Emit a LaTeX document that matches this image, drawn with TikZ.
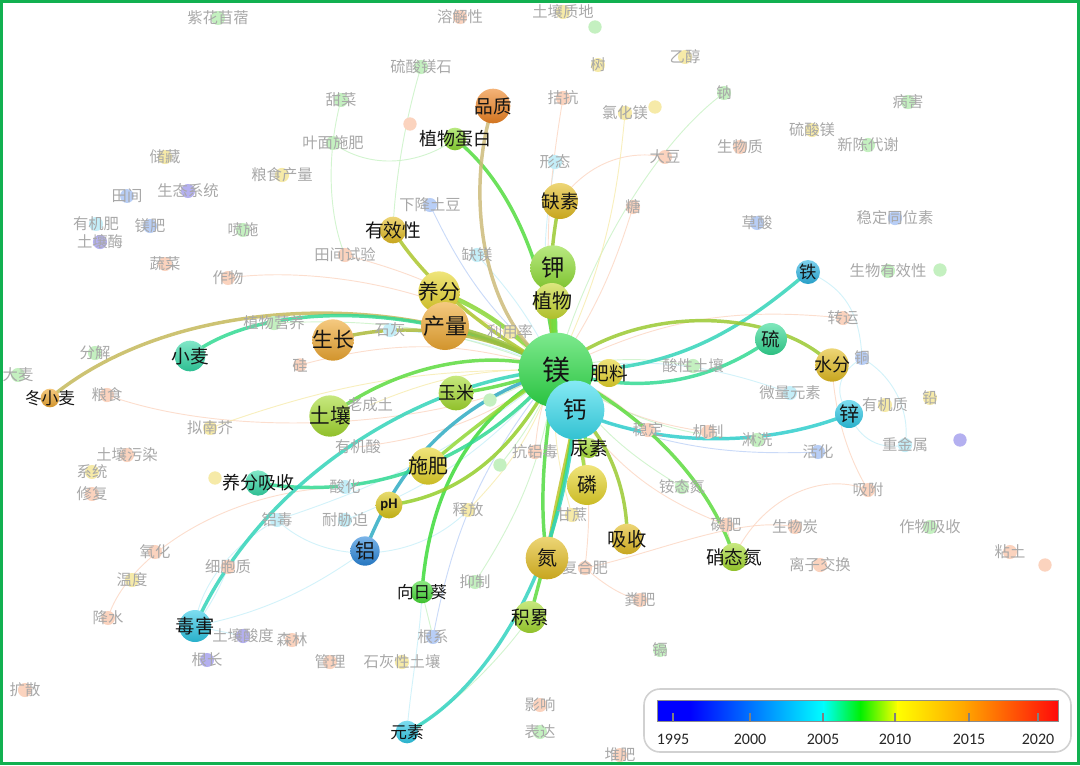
\documentclass[tikz,border=0pt]{standalone}
\usepackage{fontspec}
\setmainfont{Carlito}
\newfontfamily\cjk{Noto Sans CJK SC}
\usepackage{tikz}
\pgfdeclarelayer{links}
\pgfsetlayers{links,main}
\definecolor{cMg}{HTML}{2EDC48}
\definecolor{cCa}{HTML}{3ADCEE}
\definecolor{cK}{HTML}{8EDC34}
\definecolor{cPlant}{HTML}{C6D830}
\definecolor{cYel}{HTML}{E6D42A}
\definecolor{cGold}{HTML}{E2BC22}
\definecolor{cOrg}{HTML}{EEA832}
\definecolor{cDorg}{HTML}{EE8424}
\definecolor{cYg}{HTML}{A4DA30}
\definecolor{cGrn}{HTML}{44DA34}
\definecolor{cTeal}{HTML}{34D8A6}
\definecolor{cCyan}{HTML}{2EC8E6}
\definecolor{cBlue}{HTML}{2A86DA}
\definecolor{cMust}{HTML}{D8C416}
\definecolor{pOrg}{HTML}{FBD3BE}
\definecolor{pGrn}{HTML}{C4F0C0}
\definecolor{pYel}{HTML}{F6EAA8}
\definecolor{pCyan}{HTML}{C4EEF8}
\definecolor{pBlue}{HTML}{B8CEF6}
\definecolor{pPur}{HTML}{B4B0F0}
\definecolor{eTan}{HTML}{CDBB7A}
\definecolor{eOlive}{HTML}{C4B85A}
\definecolor{frameGreen}{HTML}{12B050}
\newcommand{\kwlbl}[1]{\makebox[0pt]{#1}}
\tikzset{
  kw/.style n args={3}{circle, inner sep=0pt, minimum size=#1pt, top color=#2!62!white, bottom color=#2!88!black, text=black!92, font=\cjk\fontsize{#3}{#3}\selectfont},
  faint/.style={circle, inner sep=0pt, minimum size=10pt, fill=#1, text=black!34, font=\cjk\fontsize{11.5}{11.5}\selectfont},
  link/.style={line width=2.6pt, draw=#1, draw opacity=.85, line cap=round},
  weak/.style={line width=.7pt, draw=#1, draw opacity=.75},
  yearlbl/.style={font=\fontsize{12}{12}\selectfont, text=black!85},
}

\begin{document}
\begin{tikzpicture}[x=0.75pt, y=-0.75pt]
\useasboundingbox (0,0) rectangle (1080,765);

\node[faint=pGrn] (alfalfa) at (218,18) {\kwlbl{紫花苜蓿}};
\node[faint=pOrg] (solub) at (460,17) {\kwlbl{溶解性}};
\node[faint=pYel] (texture) at (563,12) {\kwlbl{土壤质地}};
\node[faint=pGrn] (dotA) at (595,27) {};
\node[faint=pGrn] (mgsulfst) at (421,67) {\kwlbl{硫酸镁石}};
\node[faint=pYel] (tree) at (598,65) {\kwlbl{树}};
\node[faint=pYel] (ethanol) at (685,57) {\kwlbl{乙醇}};
\node[faint=pGrn] (sodium) at (724,93) {\kwlbl{钠}};
\node[faint=pOrg] (antag) at (563,98) {\kwlbl{拮抗}};
\node[faint=pYel] (mgcl) at (625,113) {\kwlbl{氯化镁}};
\node[faint=pYel] (dotB) at (655,107) {};
\node[faint=pGrn] (beet) at (341,100) {\kwlbl{甜菜}};
\node[faint=pOrg] (dotC) at (410,124) {};
\node[faint=pGrn] (foliar) at (333,143) {\kwlbl{叶面施肥}};
\node[faint=pOrg] (biomass) at (740,147) {\kwlbl{生物质}};
\node[faint=pYel] (mgsulf) at (812,130) {\kwlbl{硫酸镁}};
\node[faint=pGrn] (disease) at (908,102) {\kwlbl{病害}};
\node[faint=pGrn] (metab) at (868,145) {\kwlbl{新陈代谢}};
\node[faint=pCyan] (form) at (555,162) {\kwlbl{形态}};
\node[faint=pOrg] (soybean) at (665,157) {\kwlbl{大豆}};
\node[faint=pYel] (storage) at (165,157) {\kwlbl{储藏}};
\node[faint=pYel] (grainy) at (282,175) {\kwlbl{粮食产量}};
\node[faint=pBlue] (field) at (127,196) {\kwlbl{田间}};
\node[faint=pPur] (ecosys) at (188,191) {\kwlbl{生态系统}};
\node[faint=pBlue] (potato) at (430,205) {\kwlbl{下降土豆}};
\node[faint=pOrg] (sugar) at (633,207) {\kwlbl{糖}};
\node[faint=pBlue] (oxalic) at (757,223) {\kwlbl{草酸}};
\node[faint=pBlue] (isotope) at (895,218) {\kwlbl{稳定同位素}};
\node[faint=pCyan] (orgman) at (96,224) {\kwlbl{有机肥}};
\node[faint=pBlue] (mgfert) at (150,226) {\kwlbl{镁肥}};
\node[faint=pGrn] (spray) at (243,230) {\kwlbl{喷施}};
\node[faint=pPur] (enzyme) at (100,242) {\kwlbl{土壤酶}};
\node[faint=pOrg] (veget) at (165,264) {\kwlbl{蔬菜}};
\node[faint=pOrg] (fieldexp) at (345,255) {\kwlbl{田间试验}};
\node[faint=pCyan] (mgdef) at (477,255) {\kwlbl{缺镁}};
\node[faint=pOrg] (crop) at (228,278) {\kwlbl{作物}};
\node[faint=pGrn] (bioavail) at (888,271) {\kwlbl{生物有效性}};
\node[faint=pGrn] (dotD) at (940,270) {};
\node[faint=pGrn] (plantnut) at (274,323) {\kwlbl{植物营养}};
\node[faint=pCyan] (liming) at (390,330) {\kwlbl{石灰}};
\node[faint=pYel] (useeff) at (510,332) {\kwlbl{利用率}};
\node[faint=pOrg] (transl) at (843,318) {\kwlbl{转运}};
\node[faint=pGrn] (decomp) at (95,353) {\kwlbl{分解}};
\node[faint=pOrg] (silicon) at (300,365) {\kwlbl{硅}};
\node[faint=pBlue] (cu) at (862,358) {\kwlbl{铜}};
\node[faint=pGrn] (barley) at (18,375) {\kwlbl{大麦}};
\node[faint=pOrg] (cereal) at (107,395) {\kwlbl{粮食}};
\node[faint=none] (ultisol) at (370,405) {\kwlbl{老成土}};
\node[faint=pGrn] (acidsoil) at (693,366) {\kwlbl{酸性土壤}};
\node[faint=pCyan] (microel) at (790,393) {\kwlbl{微量元素}};
\node[faint=pYel] (orgmat) at (885,405) {\kwlbl{有机质}};
\node[faint=pYel] (pb) at (930,398) {\kwlbl{铅}};
\node[faint=pYel] (arabid) at (210,428) {\kwlbl{拟南芥}};
\node[faint=none] (orgacid) at (358,447) {\kwlbl{有机酸}};
\node[faint=pOrg] (stable) at (648,430) {\kwlbl{稳定}};
\node[faint=pOrg] (mech) at (708,432) {\kwlbl{机制}};
\node[faint=pGrn] (leach) at (757,440) {\kwlbl{淋洗}};
\node[faint=pBlue] (activ) at (818,452) {\kwlbl{活化}};
\node[faint=pCyan] (heavy) at (905,445) {\kwlbl{重金属}};
\node[faint=pPur] (dotE) at (960,440) {};
\node[faint=pOrg] (pollut) at (127,455) {\kwlbl{土壤污染}};
\node[faint=pOrg] (antial) at (535,452) {\kwlbl{抗铝毒}};
\node[faint=pYel] (system) at (92,472) {\kwlbl{系统}};
\node[faint=pYel] (dotF) at (215,478) {};
\node[faint=pCyan] (acidif) at (345,487) {\kwlbl{酸化}};
\node[faint=pGrn] (ammon) at (682,487) {\kwlbl{铵态氮}};
\node[faint=pOrg] (adsorb) at (868,490) {\kwlbl{吸附}};
\node[faint=pOrg] (remed) at (92,494) {\kwlbl{修复}};
\node[faint=pYel] (release) at (468,510) {\kwlbl{释放}};
\node[faint=pCyan] (altox) at (277,520) {\kwlbl{铝毒}};
\node[faint=pCyan] (stress) at (345,520) {\kwlbl{耐胁迫}};
\node[faint=pYel] (sugarc) at (572,515) {\kwlbl{甘蔗}};
\node[faint=pOrg] (pfert) at (726,525) {\kwlbl{磷肥}};
\node[faint=pOrg] (biochar) at (795,527) {\kwlbl{生物炭}};
\node[faint=pGrn] (cropup) at (930,527) {\kwlbl{作物吸收}};
\node[faint=pOrg] (oxid) at (155,552) {\kwlbl{氧化}};
\node[faint=pOrg] (clay) at (1010,552) {\kwlbl{粘土}};
\node[faint=pOrg] (dotG) at (1045,565) {};
\node[faint=pOrg] (cyto) at (228,567) {\kwlbl{细胞质}};
\node[faint=pOrg] (ionex) at (820,565) {\kwlbl{离子交换}};
\node[faint=pOrg] (compound) at (585,568) {\kwlbl{复合肥}};
\node[faint=pYel] (temp) at (132,580) {\kwlbl{温度}};
\node[faint=pGrn] (inhib) at (475,582) {\kwlbl{抑制}};
\node[faint=pOrg] (manure) at (640,600) {\kwlbl{粪肥}};
\node[faint=pOrg] (precip) at (108,618) {\kwlbl{降水}};
\node[faint=pPur] (soilacid) at (243,636) {\kwlbl{土壤酸度}};
\node[faint=pOrg] (forest) at (292,640) {\kwlbl{森林}};
\node[faint=pBlue] (roots) at (433,637) {\kwlbl{根系}};
\node[faint=pGrn] (cd) at (660,650) {\kwlbl{镉}};
\node[faint=pPur] (rootlen) at (207,660) {\kwlbl{根长}};
\node[faint=pOrg] (manage) at (330,662) {\kwlbl{管理}};
\node[faint=pYel] (calcsoil) at (402,662) {\kwlbl{石灰性土壤}};
\node[faint=pOrg] (diffus) at (25,690) {\kwlbl{扩散}};
\node[faint=pOrg] (effect) at (540,705) {\kwlbl{影响}};
\node[faint=pGrn] (express) at (540,732) {\kwlbl{表达}};
\node[faint=pOrg] (compost) at (620,755) {\kwlbl{堆肥}};
\node[faint=pGrn] (dotH) at (490,400) {};
\node[faint=pGrn] (dotI) at (500,465) {};

\node[kw={34}{cK}{17.5}] (k) at (553,268) {\kwlbl{钾}};
\node[kw={27}{cPlant}{15}] (plant) at (552,301) {\kwlbl{植物}};
\node[kw={56}{cMg}{21}] (mg) at (556,370) {\kwlbl{镁}};
\node[kw={15}{cYg}{14}] (urea) at (589,448) {\kwlbl{尿素}};
\node[kw={44}{cCa}{17.5}] (ca) at (575,410) {\kwlbl{钙}};
\node[kw={21}{cYel}{14}] (ferti) at (609,373) {\kwlbl{肥料}};
\node[kw={30}{cYel}{15}] (phos) at (587,485) {\kwlbl{磷}};
\node[kw={32}{cGold}{15}] (nitro) at (547,558) {\kwlbl{氮}};
\node[kw={23}{cGold}{14.5}] (uptake) at (627,539) {\kwlbl{吸收}};
\node[kw={21}{cYg}{14}] (nitrate) at (734,557) {\kwlbl{硝态氮}};
\node[kw={24}{cYg}{14}] (accum) at (530,617) {\kwlbl{积累}};
\node[kw={17}{cGrn}{12.5}] (sunfl) at (422,592) {\kwlbl{向日葵}};
\node[kw={17}{cCyan}{12.5}] (elem) at (407,732) {\kwlbl{元素}};
\node[kw={22}{cBlue}{15}] (al) at (365,551) {\kwlbl{铝}};
\node[kw={20}{cMust}{11}, font=\bfseries\fontsize{11}{11}\selectfont] (ph) at (389,505) {\kwlbl{pH}};
\node[kw={28}{cYel}{15}] (fert) at (428,466) {\kwlbl{施肥}};
\node[kw={26}{cYg}{13.5}] (maize) at (456,393) {\kwlbl{玉米}};
\node[kw={31}{cYg}{15.5}] (soil) at (330,416) {\kwlbl{土壤}};
\node[kw={19}{cTeal}{13.5}] (nupt) at (258,483) {\kwlbl{养分吸收}};
\node[kw={24}{cCyan}{14.5}] (tox) at (195,626) {\kwlbl{毒害}};
\node[kw={23}{cTeal}{14}] (wheat) at (190,356) {\kwlbl{小麦}};
\node[kw={14}{cOrg}{12.5}] (wwheat) at (50,398) {\kwlbl{冬小麦}};
\node[kw={31}{cOrg}{15.5}] (growth) at (333,340) {\kwlbl{生长}};
\node[kw={31}{cYel}{15.5}] (nutr) at (439,292) {\kwlbl{养分}};
\node[kw={36}{cOrg}{16.5}] (yield) at (445,326) {\kwlbl{产量}};
\node[kw={20}{cGold}{14}] (avail) at (393,230) {\kwlbl{有效性}};
\node[kw={27}{cGold}{14}] (defic) at (560,201) {\kwlbl{缺素}};
\node[kw={17}{cK}{13.5}] (prot) at (455,139) {\kwlbl{植物蛋白}};
\node[kw={26}{cDorg}{14}] (qual) at (493,106) {\kwlbl{品质}};
\node[kw={18}{cCyan!70!cBlue}{13}] (fe) at (808,272) {\kwlbl{铁}};
\node[kw={24}{cTeal!80!cMg}{14}] (s) at (771,339) {\kwlbl{硫}};
\node[kw={25}{cGold}{13.5}] (water) at (832,365) {\kwlbl{水分}};
\node[kw={21}{cCyan}{15}] (zn) at (849,414) {\kwlbl{锌}};

\begin{pgfonlayer}{links}
\draw[weak=pOrg] (cereal.center) .. controls (230,440) and (440,430) .. (mg.center);
\draw[weak=pGrn] (beet.center) .. controls (325,160) and (330,220) .. (fieldexp.center);
\draw[weak=pGrn] (foliar.center) .. controls (370,170) and (420,165) .. (prot.center);
\draw[weak=pGrn] (mgsulfst.center) .. controls (405,120) and (395,180) .. (avail.center);
\draw[weak=pOrg] (defic.center) .. controls (590,160) and (630,150) .. (soybean.center);
\draw[weak=pGrn] (sodium.center) .. controls (660,140) and (590,250) .. (mg.center);
\draw[weak=pCyan] (fe.center) .. controls (850,290) and (860,320) .. (cu.center);
\draw[weak=pCyan] (cu.center) .. controls (900,380) and (910,420) .. (heavy.center);
\draw[weak=pCyan] (zn.center) .. controls (860,440) and (880,450) .. (heavy.center);
\draw[weak=pCyan] (cu.center) .. controls (835,375) and (835,395) .. (zn.center);
\draw[weak=pOrg] (water.center) .. controls (835,420) and (850,460) .. (adsorb.center);
\draw[weak=pOrg] (adsorb.center) .. controls (820,470) and (760,500) .. (nitrate.center);
\draw[weak=pOrg] (compound.center) .. controls (650,555) and (740,515) .. (biochar.center);
\draw[weak=pOrg] (compound.center) .. controls (605,585) and (620,595) .. (manure.center);
\draw[weak=pOrg] (precip.center) .. controls (125,560) and (220,490) .. (acidif.center);
\draw[weak=pCyan] (tox.center) -- (soilacid.center);
\draw[weak=pCyan] (tox.center) .. controls (215,600) and (225,575) .. (cyto.center);
\draw[weak=pCyan] (tox.center) .. controls (200,580) and (240,540) .. (altox.center);
\draw[weak=pCyan] (tox.center) .. controls (280,610) and (330,575) .. (al.center);
\draw[weak=pCyan] (sunfl.center) .. controls (420,640) and (410,690) .. (elem.center);
\draw[weak=pGrn] (sunfl.center) -- (roots.center);
\draw[weak=pGrn] (accum.center) .. controls (500,660) and (450,710) .. (elem.center);
\draw[weak=pCyan] (altox.center) .. controls (330,570) and (420,560) .. (release.center);
\draw[weak=pOrg] (crop.center) .. controls (320,265) and (470,290) .. (mg.center);
\draw[weak=pOrg] (nitrate.center) -- (pfert.center);
\draw[weak=pCyan] (liming.center) to[bend left=10] (mg.center);
\draw[weak=pYel] (useeff.center) to[bend right=10] (mg.center);
\draw[weak=pYel] (ultisol.center) to[bend left=12] (mg.center);
\draw[weak=pOrg] (orgacid.center) to[bend right=14] (mg.center);
\draw[weak=pCyan] (acidif.center) to[bend right=18] (mg.center);
\draw[weak=pOrg] (antial.center) to[bend left=10] (mg.center);
\draw[weak=pYel] (release.center) to[bend right=12] (mg.center);
\draw[weak=pYel] (sugarc.center) to[bend left=10] (mg.center);
\draw[weak=pOrg] (stable.center) to[bend right=10] (mg.center);
\draw[weak=pGrn] (acidsoil.center) to[bend right=12] (mg.center);
\draw[weak=pOrg] (mech.center) to[bend left=14] (mg.center);
\draw[weak=pGrn] (leach.center) to[bend left=16] (mg.center);
\draw[weak=pGrn] (ammon.center) to[bend left=12] (mg.center);
\draw[weak=pCyan] (microel.center) to[bend right=14] (mg.center);
\draw[weak=pOrg] (silicon.center) to[bend left=16] (mg.center);
\draw[weak=pGrn] (plantnut.center) to[bend left=12] (mg.center);
\draw[weak=pOrg] (fieldexp.center) to[bend left=14] (mg.center);
\draw[weak=pBlue] (potato.center) to[bend right=12] (mg.center);
\draw[weak=pCyan] (mgdef.center) to[bend left=8] (mg.center);
\draw[weak=pCyan] (form.center) to[bend right=10] (mg.center);
\draw[weak=pGrn] (inhib.center) to[bend right=12] (mg.center);
\draw[weak=pBlue] (roots.center) to[bend left=14] (mg.center);
\draw[weak=pOrg] (compound.center) to[bend right=10] (ca.center);
\draw[weak=pBlue] (activ.center) to[bend left=12] (ca.center);
\draw[weak=pOrg] (antag.center) to[bend right=8] (mg.center);
\draw[weak=pYel] (mgcl.center) to[bend left=10] (mg.center);
\draw[weak=pOrg] (sugar.center) to[bend left=8] (mg.center);
\draw[weak=pOrg] (transl.center) to[bend right=16] (mg.center);
\draw[weak=pOrg] (pfert.center) to[bend left=16] (ca.center);
\draw[weak=pYel] (arabid.center) to[bend left=10] (mg.center);
\draw[weak=pCyan] (stress.center) to[bend right=14] (mg.center);
\draw[weak=pCyan] (altox.center) to[bend right=10] (mg.center);
\draw[weak=pGrn] (dotH.center) -- (mg.center);
\draw[weak=pGrn] (dotI.center) to[bend right=8] (mg.center);

\draw[link=eOlive] (wwheat.center) .. controls (180,290) and (420,290) .. (mg.center);
\draw[link=cTeal!80!cMg] (wheat.center) .. controls (260,300) and (430,300) .. (mg.center);
\draw[link=cMg!35!cOrg] (growth.center) .. controls (400,320) and (490,330) .. (mg.center);
\draw[link=cMg!45!cOrg, line width=3.6pt] (yield.center) .. controls (490,335) and (520,350) .. (mg.center);
\draw[link=cMg!50!cYel, line width=3.4pt] (nutr.center) .. controls (490,310) and (520,340) .. (mg.center);
\draw[link=cMg!30!cGold] (avail.center) .. controls (430,290) and (500,340) .. (mg.center);
\draw[link=cMg!60!cK] (prot.center) .. controls (520,190) and (550,290) .. (mg.center);
\draw[link=eTan] (qual.center) .. controls (465,190) and (480,320) .. (mg.center);
\draw[link=cMg!40!cGold] (defic.center) .. controls (548,250) and (548,320) .. (mg.center);
\draw[link=cMg!60!cK, line width=4pt] (k.center) -- (mg.center);
\draw[link=cMg!50!cPlant, line width=4pt] (plant.center) -- (mg.center);
\draw[link=cMg!50!cYel] (ferti.center) -- (mg.center);
\draw[link=cTeal!70!cCyan] (fe.center) .. controls (740,330) and (670,375) .. (mg.center);
\draw[link=cTeal!80!cMg] (s.center) .. controls (720,375) and (650,400) .. (mg.center);
\draw[link=cMg!40!cGold] (water.center) .. controls (780,310) and (640,300) .. (mg.center);
\draw[link=cCyan!60!cTeal] (zn.center) .. controls (760,450) and (650,445) .. (ca.center);
\draw[link=cMg!60!cYg] (nitrate.center) .. controls (710,480) and (640,410) .. (mg.center);
\draw[link=cMg!40!cGold] (uptake.center) .. controls (628,480) and (600,430) .. (ca.center);
\draw[link=cMg!40!cYel] (phos.center) -- (ca.center);
\draw[link=cMg!60!cYg] (urea.center) -- (ca.center);
\draw[link=cGold!80!cMg] (nitro.center) .. controls (555,500) and (570,450) .. (ca.center);
\draw[link=cMg!70!cYg] (nitro.center) .. controls (538,500) and (545,440) .. (mg.center);
\draw[link=cMg!60!cYg] (accum.center) .. controls (545,560) and (570,470) .. (ca.center);
\draw[link=cTeal!60!cCyan] (elem.center) .. controls (490,690) and (565,560) .. (ca.center);
\draw[link=cGrn!70!cMg] (sunfl.center) .. controls (430,480) and (480,410) .. (mg.center);
\draw[link=cBlue!55!cTeal] (al.center) .. controls (400,460) and (460,400) .. (mg.center);
\draw[link=cMg!40!cMust] (ph.center) .. controls (470,495) and (520,440) .. (mg.center);
\draw[link=cMg!45!cYel] (fert.center) .. controls (470,430) and (510,400) .. (mg.center);
\draw[link=cMg!60!cYg] (maize.center) .. controls (490,390) and (520,380) .. (mg.center);
\draw[link=cMg!60!cYg] (soil.center) .. controls (390,370) and (480,345) .. (mg.center);
\draw[link=cTeal!80!cMg] (nupt.center) .. controls (360,500) and (470,470) .. (mg.center);
\draw[link=cTeal!70!cCyan] (tox.center) .. controls (260,480) and (420,380) .. (mg.center);
\end{pgfonlayer}

\draw[black!18, line width=1.2pt, rounded corners=12pt] (644,689) rectangle (1071,752);
\fill[blue] (657,700) rectangle (691,721);
\shade[left color=blue, right color=cyan] (690,700) rectangle (824,721);
\shade[left color=cyan, right color={rgb,255:red,0;green,240;blue,0}] (823,700) rectangle (861,721);
\shade[left color={rgb,255:red,0;green,240;blue,0}, right color=yellow] (860,700) rectangle (898,721);
\shade[left color=yellow, right color={rgb,255:red,255;green,165;blue,0}] (897,700) rectangle (966,721);
\shade[left color={rgb,255:red,255;green,165;blue,0}, right color={rgb,255:red,255;green,10;blue,10}] (965,700) rectangle (1058,721);
\draw[black!45, line width=.6pt] (657,700) rectangle (1058,721);
\draw[black!50, line width=1pt] (673,713) -- (673,722);
\draw[black!50, line width=1pt] (750,713) -- (750,722);
\draw[black!50, line width=1pt] (823,713) -- (823,722);
\draw[black!50, line width=1pt] (895,713) -- (895,722);
\draw[black!50, line width=1pt] (969,713) -- (969,722);
\draw[black!50, line width=1pt] (1038,713) -- (1038,722);
\node[yearlbl] (y1995) at (673,739) {1995};
\node[yearlbl] (y2000) at (750,739) {2000};
\node[yearlbl] (y2005) at (823,739) {2005};
\node[yearlbl] (y2010) at (895,739) {2010};
\node[yearlbl] (y2015) at (969,739) {2015};
\node[yearlbl] (y2020) at (1038,739) {2020};

\draw[frameGreen, line width=2.4pt] (1.6,1.6) rectangle (1078.4,763.4);
\end{tikzpicture}
\end{document}
